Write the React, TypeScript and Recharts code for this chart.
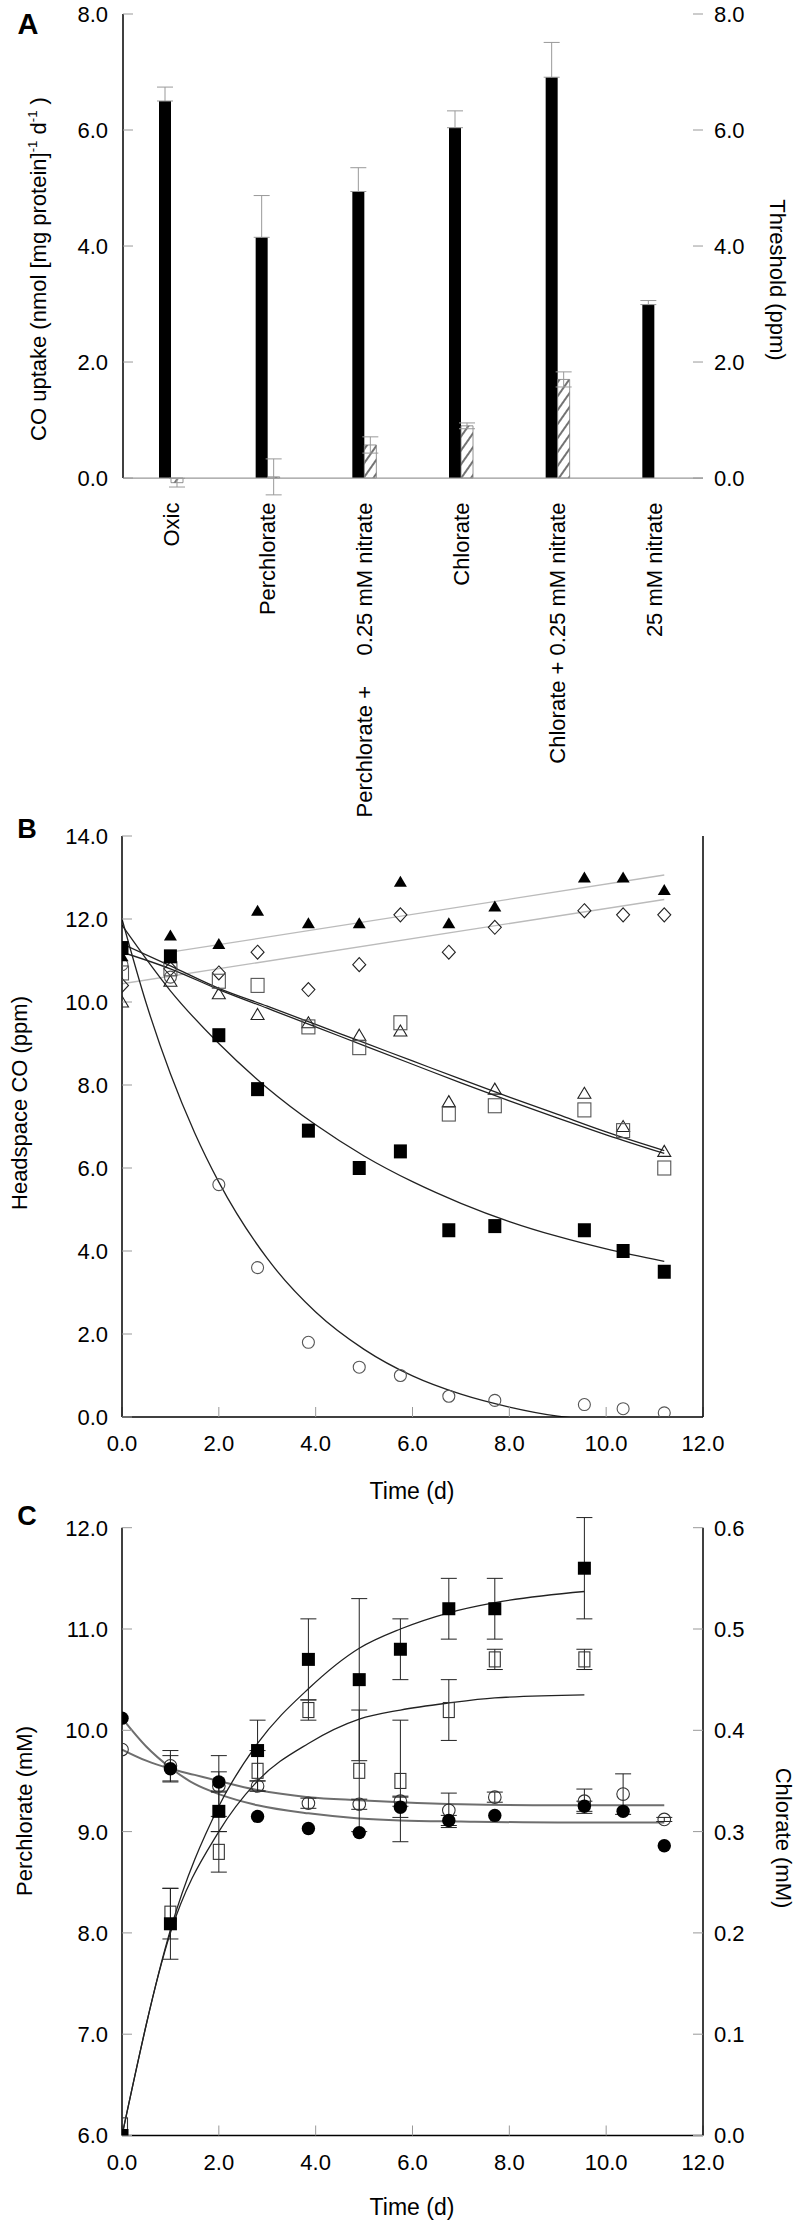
import React from 'react';
import { ComposedChart, Bar, ErrorBar, XAxis, YAxis, Line, Scatter, ReferenceLine } from 'recharts';

// ---- Panel A: CO uptake and threshold per treatment ----
const treatments = [
  'Oxic',
  'Perchlorate',
  'Perchlorate +\u00a0\u00a0\u00a0\u00a0 0.25 mM nitrate',
  'Chlorate',
  'Chlorate + 0.25 mM nitrate',
  '25 mM nitrate',
];
const coUptake = [6.5, 4.15, 4.94, 6.04, 6.91, 2.99];
const coUptakeErr = [0.24, 0.72, 0.41, 0.29, 0.6, 0.07];
const threshold = [-0.08, 0.02, 0.57, 0.9, 1.7, 0.0];
const thresholdErr = [0.075, 0.31, 0.14, 0.05, 0.13, 0];
const ticksA = [0, 2, 4, 6, 8];

// ---- Panel B: headspace CO over time ----
const timeB = [0, 1.0, 2.0, 2.8, 3.85, 4.9, 5.75, 6.75, 7.7, 9.55, 10.35, 11.2];
const coFilledTri = [11.1, 11.6, 11.4, 12.2, 11.9, 11.9, 12.9, 11.9, 12.3, 13.0, 13.0, 12.7];
const coOpenDiamond = [10.4, 10.8, 10.7, 11.2, 10.3, 10.9, 12.1, 11.2, 11.8, 12.2, 12.1, 12.1];
const coFilledSq = [11.3, 11.1, 9.2, 7.9, 6.9, 6.0, 6.4, 4.5, 4.6, 4.5, 4.0, 3.5];
const coOpenSq = [10.7, 10.8, 10.5, 10.4, 9.4, 8.9, 9.5, 7.3, 7.5, 7.4, 6.9, 6.0];
const coOpenTri = [10.0, 10.5, 10.2, 9.7, 9.5, 9.2, 9.3, 7.6, 7.9, 7.8, 7.0, 6.4];
const coOpenCircle = [10.9, 10.6, 5.6, 3.6, 1.8, 1.2, 1.0, 0.5, 0.4, 0.3, 0.2, 0.1];

// fitted lines
const fitUpperT = [1, 11.2];
const fitUpper = [11.2, 13.06];
const fitLowerT = [0, 11.2];
const fitLower = [10.44, 12.47];
const fitFastT = [0, 0.5, 1, 1.5, 2, 3, 4, 5, 6, 7, 8, 9, 10, 11.2];
const fitFast = [12.0, 9.97, 8.27, 6.85, 5.66, 3.82, 2.53, 1.63, 0.99, 0.55, 0.24, 0.02, -0.09, -0.26];
const fitSlowT = [0, 1, 2, 3, 4, 5, 6, 7, 8, 9, 10, 11.2];
const fitFilledSq = [11.85, 10.27, 9.0, 7.93, 7.04, 6.29, 5.67, 5.15, 4.71, 4.35, 4.05, 3.75];
const fitOpenSq = [11.2, 10.8, 10.3, 9.85, 9.4, 8.95, 8.5, 8.05, 7.62, 7.2, 6.8, 6.35];
const fitOpenTri = [11.4, 10.87, 10.33, 9.9, 9.46, 9.02, 8.58, 8.14, 7.71, 7.29, 6.87, 6.42];
const ticksB = [0, 2, 4, 6, 8, 10, 12, 14];
const timeTicks = [0, 2, 4, 6, 8, 10, 12];

// ---- Panel C: perchlorate and chlorate over time ----
const timeC = [0, 1.0, 2.0, 2.8, 3.85, 4.9, 5.75, 6.75, 7.7, 9.55, 10.35, 11.2];
const perchFilled = [10.12, 9.62, 9.49, 9.15, 9.03, 8.99, 9.24, 9.11, 9.16, 9.25, 9.2, 8.86];
const perchFilledErr = [0, 0.13, 0.1, 0, 0, 0, 0.1, 0.05, 0, 0.05, 0, 0];
const perchOpen = [9.81, 9.65, 9.45, 9.45, 9.28, 9.27, 9.3, 9.21, 9.34, 9.3, 9.37, 9.12];
const perchOpenErr = [0, 0.15, 0.3, 0.05, 0.05, 0.05, 0.05, 0.17, 0.05, 0.12, 0.2, 0.02];
const timeChl = [0, 1.0, 2.0, 2.8, 3.85, 4.9, 5.75, 6.75, 7.7, 9.55];
const chlFilled = [0.0, 0.209, 0.32, 0.38, 0.47, 0.45, 0.48, 0.52, 0.52, 0.56];
const chlFilledErr = [0, 0.035, 0.02, 0.03, 0.04, 0.08, 0.03, 0.03, 0.03, 0.05];
const chlOpen = [0.01, 0.219, 0.28, 0.36, 0.42, 0.36, 0.35, 0.42, 0.47, 0.47];
const chlOpenErr = [0, 0.025, 0.02, 0.02, 0.01, 0.06, 0.06, 0.03, 0.01, 0.01];

const fitPerchT = [0, 0.5, 1, 1.5, 2, 2.8, 3.85, 4.9, 5.75, 7, 9, 11.2];
const fitPerchFilled = [10.12, 9.84, 9.63, 9.47, 9.37, 9.26, 9.18, 9.13, 9.11, 9.1, 9.09, 9.09];
const fitPerchOpen = [9.81, 9.7, 9.62, 9.56, 9.5, 9.41, 9.34, 9.31, 9.29, 9.27, 9.26, 9.26];
const fitChlT = [0, 1, 2, 2.8, 3.85, 4.9, 5.75, 6.75, 7.7, 9.55];
const fitChlFilled = [0.0, 0.203, 0.325, 0.387, 0.441, 0.481, 0.5, 0.516, 0.526, 0.537];
const fitChlOpen = [0.0, 0.2, 0.3, 0.35, 0.387, 0.411, 0.42, 0.427, 0.432, 0.435];
const ticksCLeft = [6, 7, 8, 9, 10, 11, 12];
const ticksCRight = [0, 0.1, 0.2, 0.3, 0.4, 0.5, 0.6];

const FONT = '"Liberation Sans", Arial, Helvetica, sans-serif';
const TICK_FS = 22;
const fmt1 = (v: number) => Number(v).toFixed(1);
const grayTick = { stroke: '#999', strokeWidth: 1 };
const frame = { stroke: '#000', strokeWidth: 1.5 };

// numeric tick labels drawn by hand so the size is fixed
function YTick(props: any) {
  const { x, y, payload, textAnchor } = props;
  return (
    <text x={x} y={y} dy="0.36em" textAnchor={textAnchor} fontSize={TICK_FS} fill="#000">
      {fmt1(payload.value)}
    </text>
  );
}
function XTick(props: any) {
  const { x, y, payload } = props;
  return (
    <text x={x} y={y} dy="0.71em" textAnchor="middle" fontSize={TICK_FS} fill="#000">
      {fmt1(payload.value)}
    </text>
  );
}

const pts = (xs: number[], ys: number[], errs?: number[]) =>
  xs.map((x, i) => ({ x, y: ys[i], e: errs ? errs[i] : 0 }));

const barData = treatments.map((name, i) => ({
  name,
  uptake: coUptake[i],
  uptakeErr: [0, coUptakeErr[i]],
  threshold: threshold[i],
  thresholdErr: thresholdErr[i],
}));

function CategoryTick(props: any) {
  const { x, y, payload } = props;
  return (
    <text
      x={x}
      y={y}
      transform={`rotate(-90 ${x} ${y})`}
      textAnchor="end"
      dominantBaseline="central"
      fontSize={22}
      fill="#000"
    >
      {payload.value}
    </text>
  );
}

const marker = (kind: string) => (p: any) => {
  const { cx, cy } = p;
  if (cx == null || cy == null) return <g />;
  switch (kind) {
    case 'triFilled':
      return <path d={`M${cx},${cy - 6} L${cx + 6.5},${cy + 5} L${cx - 6.5},${cy + 5} Z`} fill="#000" />;
    case 'triOpen':
      return <path d={`M${cx},${cy - 6} L${cx + 6.5},${cy + 5} L${cx - 6.5},${cy + 5} Z`} fill="none" stroke="#222" strokeWidth={1.1} />;
    case 'diamond':
      return <path d={`M${cx},${cy - 7} L${cx + 6.5},${cy} L${cx},${cy + 7} L${cx - 6.5},${cy} Z`} fill="none" stroke="#222" strokeWidth={1.1} />;
    case 'sqFilled':
      return <rect x={cx - 6.5} y={cy - 7} width={13} height={14} fill="#000" />;
    case 'sqOpen':
      return <rect x={cx - 6.5} y={cy - 7} width={13} height={14} fill="none" stroke="#555" strokeWidth={1.1} />;
    case 'circOpen':
      return <circle cx={cx} cy={cy} r={6} fill="none" stroke="#555" strokeWidth={1.1} />;
    case 'dotFilled':
      return <circle cx={cx} cy={cy} r={6.7} fill="#000" />;
    case 'dotOpen':
      return <circle cx={cx} cy={cy} r={6.3} fill="none" stroke="#333" strokeWidth={1.1} />;
    case 'sqFilledC':
      return <rect x={cx - 6.5} y={cy - 6.5} width={13} height={13} fill="#000" />;
    case 'sqOpenC':
      return <rect x={cx - 5.5} y={cy - 7.5} width={11} height={15} fill="none" stroke="#333" strokeWidth={1.1} />;
    default:
      return <g />;
  }
};

function Label({ x, y, rotate = 0, size = 22, bold = false, children }: any) {
  return (
    <div
      style={{
        position: 'absolute',
        left: x,
        top: y,
        transform: `translate(-50%, -50%) rotate(${rotate}deg)`,
        whiteSpace: 'nowrap',
        fontSize: size,
        fontWeight: bold ? 'bold' : 'normal',
        lineHeight: 1,
        color: '#000',
      }}
    >
      {children}
    </div>
  );
}

function PanelA() {
  return (
    <div style={{ position: 'absolute', left: 0, top: 0 }}>
      <ComposedChart width={800} height={820} data={barData} margin={{ top: 14, right: 37, bottom: 23.4, left: 63 }} barGap={0}>
        <defs>
          <pattern id="hatch" patternUnits="userSpaceOnUse" width={8} height={8} patternTransform="rotate(35)">
            <rect width={8} height={8} fill="#fff" />
            <line x1={4} y1={0} x2={4} y2={8} stroke="#000" strokeWidth={1.1} />
          </pattern>
        </defs>
        <XAxis xAxisId="cat" dataKey="name" type="category" height={300} interval={0} tickSize={0} tickMargin={6} axisLine={false} tickLine={false} tick={CategoryTick} />
        <XAxis xAxisId="top" orientation="top" type="number" domain={[0, 6]} allowDataOverflow ticks={[1, 2, 3, 4, 5]} height={0} tick={false} tickSize={-10} tickLine={grayTick} axisLine={frame} />
        <YAxis yAxisId="left" domain={[-0.32, 8]} allowDataOverflow ticks={ticksA} width={60} axisLine={false} tickSize={-10} tickMargin={25} tickLine={grayTick} tick={YTick} />
        <YAxis yAxisId="right" orientation="right" domain={[-0.32, 8]} allowDataOverflow ticks={ticksA} width={60} axisLine={false} tickSize={-10} tickMargin={21} tickLine={grayTick} tick={YTick} />
        <ReferenceLine xAxisId="top" yAxisId="left" y={0} stroke="#999" strokeWidth={1.2} />
        <ReferenceLine xAxisId="top" yAxisId="left" segment={[{ x: 0, y: 0 }, { x: 0, y: 8 }]} stroke="#000" strokeWidth={1.5} />
        <ReferenceLine xAxisId="top" yAxisId="left" segment={[{ x: 6, y: 0 }, { x: 6, y: 8 }]} stroke="#000" strokeWidth={1.5} />
        <Bar xAxisId="cat" yAxisId="left" dataKey="uptake" fill="#000" barSize={12} isAnimationActive={false}>
          <ErrorBar dataKey="uptakeErr" direction="y" width={8} stroke="#999" strokeWidth={1} />
        </Bar>
        <Bar xAxisId="cat" yAxisId="left" dataKey="threshold" fill="url(#hatch)" stroke="#777" strokeWidth={0.8} barSize={12} isAnimationActive={false}>
          <ErrorBar dataKey="thresholdErr" direction="y" width={8} stroke="#999" strokeWidth={1} />
        </Bar>
      </ComposedChart>
    </div>
  );
}

function PanelB() {
  const line = (xs: number[], ys: number[], color: string, key: string) => (
    <Line key={key} xAxisId="b" yAxisId="l" data={pts(xs, ys)} dataKey="y" type="monotone" dot={false} stroke={color} strokeWidth={1.3} isAnimationActive={false} />
  );
  const sc = (ys: number[], kind: string, key: string) => (
    <Scatter key={key} xAxisId="b" yAxisId="l" data={pts(timeB, ys)} dataKey="y" shape={marker(kind)} isAnimationActive={false} />
  );
  return (
    <div style={{ position: 'absolute', left: 0, top: 820 }}>
      <ComposedChart width={800} height={690} margin={{ top: 16, right: 87, bottom: 33, left: 62 }}>
        <XAxis xAxisId="b" dataKey="x" type="number" domain={[0, 12]} allowDataOverflow ticks={timeTicks} height={60} tickSize={-10} tickMargin={28} tickLine={grayTick} axisLine={frame} tick={XTick} />
        <XAxis xAxisId="t" orientation="top" type="number" domain={[0, 12]} allowDataOverflow ticks={[2, 4, 6, 8, 10]} height={0} tick={false} tickSize={-10} tickLine={grayTick} axisLine={frame} />
        <YAxis yAxisId="l" domain={[0, 14]} allowDataOverflow ticks={ticksB} width={60} tickSize={-10} tickMargin={24} tickLine={grayTick} axisLine={frame} tick={YTick} />
        <YAxis yAxisId="r" orientation="right" domain={[0, 14]} allowDataOverflow ticks={[2, 4, 6, 8, 10, 12]} width={10} tick={false} tickSize={-10} tickLine={grayTick} axisLine={frame} />
        {line(fitUpperT, fitUpper, '#bbb', 'fu')}
        {line(fitLowerT, fitLower, '#bbb', 'fl')}
        {line(fitFastT, fitFast, '#222', 'ff')}
        {line(fitSlowT, fitFilledSq, '#222', 'fs')}
        {line(fitSlowT, fitOpenSq, '#222', 'fo')}
        {line(fitSlowT, fitOpenTri, '#222', 'ft')}
        {sc(coOpenCircle, 'circOpen', 's1')}
        {sc(coOpenDiamond, 'diamond', 's2')}
        {sc(coOpenTri, 'triOpen', 's3')}
        {sc(coOpenSq, 'sqOpen', 's4')}
        {sc(coFilledSq, 'sqFilled', 's5')}
        {sc(coFilledTri, 'triFilled', 's6')}
      </ComposedChart>
    </div>
  );
}

function PanelC() {
  return (
    <div style={{ position: 'absolute', left: 0, top: 1510 }}>
      <ComposedChart width={800} height={715} margin={{ top: 17.7, right: 37, bottom: 29.5, left: 62 }}>
        <XAxis xAxisId="b" dataKey="x" type="number" domain={[0, 12]} allowDataOverflow ticks={timeTicks} height={60} tickSize={-10} tickMargin={29} tickLine={grayTick} axisLine={frame} tick={XTick} />
        <XAxis xAxisId="t" orientation="top" type="number" domain={[0, 12]} allowDataOverflow ticks={[2, 4, 6, 8, 10]} height={0} tick={false} tickSize={-10} tickLine={grayTick} axisLine={frame} />
        <YAxis yAxisId="l" domain={[6, 12]} allowDataOverflow ticks={ticksCLeft} width={60} tickSize={-10} tickMargin={24} tickLine={grayTick} axisLine={frame} tick={YTick} />
        <YAxis yAxisId="r" orientation="right" domain={[0, 0.6]} allowDataOverflow ticks={ticksCRight} width={60} tickSize={-10} tickMargin={21} tickLine={grayTick} axisLine={frame} tick={YTick} />
        <Line xAxisId="b" yAxisId="l" data={pts(fitPerchT, fitPerchFilled)} dataKey="y" type="monotone" dot={false} stroke="#6e6e6e" strokeWidth={2} isAnimationActive={false} />
        <Line xAxisId="b" yAxisId="l" data={pts(fitPerchT, fitPerchOpen)} dataKey="y" type="monotone" dot={false} stroke="#6e6e6e" strokeWidth={2} isAnimationActive={false} />
        <Line xAxisId="b" yAxisId="r" data={pts(fitChlT, fitChlFilled)} dataKey="y" type="monotone" dot={false} stroke="#222" strokeWidth={1.3} isAnimationActive={false} />
        <Line xAxisId="b" yAxisId="r" data={pts(fitChlT, fitChlOpen)} dataKey="y" type="monotone" dot={false} stroke="#222" strokeWidth={1.3} isAnimationActive={false} />
        <Scatter xAxisId="b" yAxisId="l" data={pts(timeC, perchOpen, perchOpenErr)} dataKey="y" shape={marker('dotOpen')} isAnimationActive={false}>
          <ErrorBar dataKey="e" direction="y" width={8} stroke="#222" strokeWidth={1} />
        </Scatter>
        <Scatter xAxisId="b" yAxisId="l" data={pts(timeC, perchFilled, perchFilledErr)} dataKey="y" shape={marker('dotFilled')} isAnimationActive={false}>
          <ErrorBar dataKey="e" direction="y" width={8} stroke="#222" strokeWidth={1} />
        </Scatter>
        <Scatter xAxisId="b" yAxisId="r" data={pts(timeChl, chlOpen, chlOpenErr)} dataKey="y" shape={marker('sqOpenC')} isAnimationActive={false}>
          <ErrorBar dataKey="e" direction="y" width={8} stroke="#222" strokeWidth={1} />
        </Scatter>
        <Scatter xAxisId="b" yAxisId="r" data={pts(timeChl, chlFilled, chlFilledErr)} dataKey="y" shape={marker('sqFilledC')} isAnimationActive={false}>
          <ErrorBar dataKey="e" direction="y" width={8} stroke="#222" strokeWidth={1} />
        </Scatter>
      </ComposedChart>
    </div>
  );
}

export default function App() {
  return (
    <div style={{ position: 'absolute', left: 0, top: 0, width: 800, height: 2225, background: '#fff', fontFamily: FONT, overflow: 'hidden' }}>
      <PanelA />
      <PanelB />
      <PanelC />
      <Label x={28} y={24} size={29} bold>A</Label>
      <Label x={27} y={829} size={27} bold>B</Label>
      <Label x={27} y={1516} size={27} bold>C</Label>
      <Label x={38} y={269} rotate={-90}>
        CO uptake (nmol [mg protein]<sup style={{ fontSize: '0.6em' }}>-1</sup> d<sup style={{ fontSize: '0.6em' }}>-1</sup> )
      </Label>
      <Label x={777} y={280} rotate={90}>Threshold (ppm)</Label>
      <Label x={20} y={1103} rotate={-90}>Headspace CO (ppm)</Label>
      <Label x={412} y={1491} size={23}>Time (d)</Label>
      <Label x={25} y={1811} rotate={-90}>Perchlorate (mM)</Label>
      <Label x={783} y={1838} rotate={90}>Chlorate (mM)</Label>
      <Label x={412} y={2207} size={23}>Time (d)</Label>
    </div>
  );
}
